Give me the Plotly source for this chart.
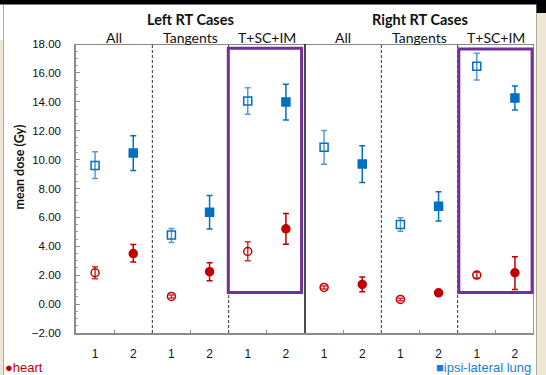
import plotly.graph_objects as go

# ---------------- data ----------------
x_pos = list(range(12))
tick_labels = ["1", "2"] * 6
subgroups = ["All", "Tangents", "T+SC+IM", "All", "Tangents", "T+SC+IM"]
sides = ["Left RT Cases", "Right RT Cases"]

heart_mean = [2.17, 3.50, 0.53, 2.24, 3.64, 5.21, 1.15, 1.36, 0.32, 0.78, 2.01, 2.17]
heart_plus = [0.41, 0.63, 0.10, 0.62, 0.67, 1.06, 0.10, 0.51, 0.08, 0.15, 0.20, 1.11]
heart_minus = [0.42, 0.59, 0.10, 0.63, 0.64, 1.06, 0.10, 0.51, 0.08, 0.15, 0.20, 1.16]

lung_mean = [9.60, 10.46, 4.78, 6.35, 14.06, 13.99, 10.85, 9.69, 5.51, 6.78, 16.46, 14.26]
lung_plus = [0.95, 1.19, 0.46, 1.17, 0.92, 1.22, 1.17, 1.27, 0.47, 1.00, 0.90, 0.84]
lung_minus = [0.90, 1.21, 0.51, 1.16, 0.93, 1.25, 1.18, 1.27, 0.46, 1.03, 0.95, 0.83]

RED = "#C00000"
BLUE = "#0070C0"
LBLUE = "#5B9BD5"
PURPLE = "#7030A0"

W, H = 546, 375
L, R, T, B = 76, 534, 44, 333


def xp(px):
    return (px - L) / (R - L)


def yp(py):
    return (B - py) / (B - T)


fig = go.Figure()


def add(series_mean, plus, minus, idx, filled, symbol, color, ecolor, name):
    fig.add_trace(go.Scatter(
        x=[x_pos[i] for i in idx],
        y=[series_mean[i] for i in idx],
        mode="markers",
        name=name,
        showlegend=False,
        marker=dict(symbol=symbol, size=8, color=color if filled else "rgba(0,0,0,0)",
                    line=dict(color=color, width=1.5)),
        error_y=dict(type="data", symmetric=False,
                     array=[plus[i] for i in idx],
                     arrayminus=[minus[i] for i in idx],
                     color=ecolor, thickness=1.5, width=3),
    ))


odd = list(range(0, 12, 2))
even = list(range(1, 12, 2))
add(lung_mean, lung_plus, lung_minus, odd, False, "square", BLUE, LBLUE, "lung 1")
add(lung_mean, lung_plus, lung_minus, even, True, "square", BLUE, BLUE, "lung 2")
add(heart_mean, heart_plus, heart_minus, odd, False, "circle", RED, "#D03030", "heart 1")
add(heart_mean, heart_plus, heart_minus, even, True, "circle", RED, RED, "heart 2")

shapes = []
# frame decorations
shapes.append(dict(type="rect", xref="paper", yref="paper", x0=xp(536.5), x1=xp(W), y0=yp(13), y1=yp(H),
                   fillcolor="#F0E6D5", line=dict(width=0), layer="above"))
shapes.append(dict(type="line", xref="paper", yref="paper", x0=xp(536.5), x1=xp(536.5), y0=yp(4.5), y1=yp(H),
                   line=dict(color="#B0A898", width=1), layer="above"))
shapes.append(dict(type="rect", xref="paper", yref="paper", x0=xp(0), x1=xp(3), y0=yp(40), y1=yp(H),
                   fillcolor="#F0E6D5", line=dict(width=0), layer="above"))
shapes.append(dict(type="line", xref="paper", yref="paper", x0=xp(3.5), x1=xp(3.5), y0=yp(4.5), y1=yp(H),
                   line=dict(color="#B0A898", width=1), layer="above"))

# group separators
for xv in [1.5, 3.5, 7.5, 9.5]:
    shapes.append(dict(type="line", xref="x", yref="y", x0=xv, x1=xv, y0=-2, y1=18,
                       line=dict(color="#333333", width=1, dash="3px,2px"), layer="below"))
shapes.append(dict(type="line", xref="x", yref="y", x0=5.5, x1=5.5, y0=-2, y1=18,
                   line=dict(color="#111111", width=1.5), layer="below"))
# top and right border
shapes.append(dict(type="line", xref="x", yref="y", x0=-0.5, x1=11.5, y0=18, y1=18,
                   line=dict(color="#111111", width=1.2)))
shapes.append(dict(type="line", xref="x", yref="y", x0=11.5, x1=11.5, y0=-2, y1=18,
                   line=dict(color="#555555", width=1.2)))
# highlight boxes
shapes.append(dict(type="rect", xref="x", yref="y", x0=3.49, x1=5.41, y0=0.8, y1=17.7,
                   line=dict(color=PURPLE, width=3)))
shapes.append(dict(type="rect", xref="x", yref="y", x0=9.53, x1=11.45, y0=0.8, y1=17.65,
                   line=dict(color=PURPLE, width=3)))
# dark band at the very top of the picture
shapes.append(dict(type="rect", xref="paper", yref="paper", x0=xp(0), x1=xp(W), y0=yp(0), y1=yp(4.5),
                   fillcolor="black", line=dict(width=0), layer="above"))
shapes.append(dict(type="rect", xref="paper", yref="paper", x0=xp(536.5), x1=xp(W), y0=yp(4), y1=yp(13),
                   fillcolor="black", line=dict(width=0), layer="above"))

annotations = []
HFONT = "Lato, Liberation Sans, sans-serif"
for i, s in enumerate(sides):
    annotations.append(dict(x=2.5 + 6 * i, xref="x", y=yp(19), yref="paper", text="<b>" + s + "</b>",
                            showarrow=False, font=dict(family=HFONT, size=14.5, color="#111111"),
                            xanchor="center", yanchor="middle"))
for i, s in enumerate(subgroups):
    annotations.append(dict(x=0.5 + 2 * i, xref="x", y=yp(38), yref="paper", text=s,
                            showarrow=False, font=dict(family=HFONT, size=14, color="#111111"),
                            xanchor="center", yanchor="middle"))
annotations.append(dict(x=xp(18.5), xref="paper", y=yp(167), yref="paper", text="<b>mean dose (Gy)</b>",
                        textangle=-90, showarrow=False, font=dict(family=HFONT, size=12.5, color="#111111"),
                        xanchor="center", yanchor="middle"))
annotations.append(dict(x=xp(3), xref="paper", y=yp(367), yref="paper", text="●heart",
                        showarrow=False, font=dict(family="Liberation Sans, Arial", size=13, color=RED),
                        xanchor="left", yanchor="middle"))
annotations.append(dict(x=xp(533), xref="paper", y=yp(367), yref="paper", text="■ipsi-lateral lung",
                        showarrow=False, font=dict(family="Liberation Sans, Arial", size=13, color="#1A7FD4"),
                        xanchor="right", yanchor="middle"))

fig.update_layout(
    width=W, height=H,
    margin=dict(l=L, r=W - R, t=T, b=H - B, pad=0, autoexpand=False),
    paper_bgcolor="white", plot_bgcolor="white",
    shapes=shapes, annotations=annotations,
    showlegend=False,
    xaxis=dict(range=[-0.5, 11.5], tickmode="array", tickvals=x_pos, ticktext=tick_labels,
               ticks="", showgrid=False, zeroline=False, showline=True, linecolor="#8C8C8C", linewidth=1.5,
               tickfont=dict(family="Liberation Sans, Arial", size=12, color="#111111"),
               ticklabelstandoff=9, automargin=False,
               minor=dict(tickmode="array", tickvals=[0.5, 2.5, 4.5, 6.5, 8.5, 10.5], ticks="inside",
                          ticklen=3, tickcolor="#8C8C8C", tickwidth=1)),
    yaxis=dict(range=[-2, 18], dtick=2, tickformat=".2f", ticks="inside", ticklen=4, tickcolor="#8C8C8C",
               showgrid=False, zeroline=False, showline=True, linecolor="#8C8C8C", linewidth=1.5,
               tickfont=dict(family="Liberation Sans, Arial", size=11.5, color="#111111"),
               ticklabelstandoff=11, automargin=False,
               minor=dict(dtick=0.5, ticks="inside", ticklen=2.5, tickcolor="#A0A0A0", tickwidth=1)),
)

post = "document.body.style.margin='0';document.body.style.overflow='hidden';window.scrollTo(0,0);"
fig.write_html("out.html", config={"displayModeBar": False}, post_script=post)
